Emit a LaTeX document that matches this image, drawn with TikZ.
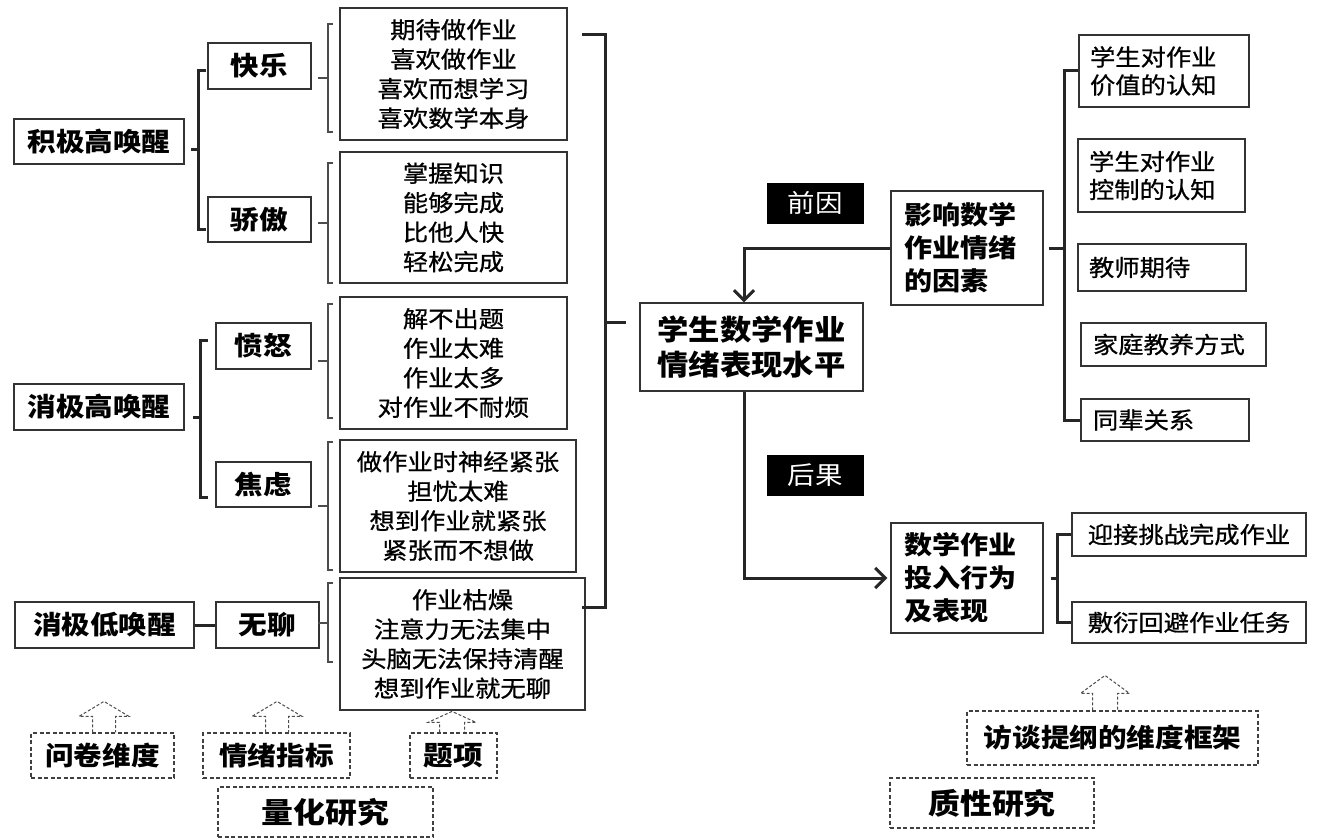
\documentclass[tikz,border=0pt]{standalone}
\usepackage{fontspec}
\setmainfont{Noto Sans CJK SC}[FakeStretch=1.1]
\newfontfamily\regf{Noto Sans CJK SC}[FakeStretch=1.1, FakeBold=0.8]
\usetikzlibrary{calc,arrows.meta}
\newcommand\myfs[2]{\fontsize{#1pt}{#2pt}\selectfont}
\begin{document}
\begin{tikzpicture}[x=1pt,y=-1pt,
  box/.style={draw=black!80, line width=1.4pt, inner sep=0pt, align=center, text=black},
  lab/.style={box, font=\bfseries\myfs{26}{32}},
  item/.style={box, font=\regf\myfs{23}{29.5}},
  ritem/.style={box, font=\regf\myfs{23}{28}, align=left},
  blk/.style={fill=black, draw=black, text=white, inner sep=0pt, font=\myfs{25}{30}},
  dbox/.style={draw=black!75, line width=1.2pt, dash pattern=on 4pt off 2.5pt, inner sep=0pt, font=\bfseries\myfs{26}{30}},
  dsh/.style={draw=black!70, line width=1pt, dash pattern=on 3pt off 2pt},
  brk/.style={draw=black!85, line width=3pt},
  thinbrk/.style={draw=black!70, line width=1.1pt},
  arr/.style={draw=black!85, line width=3pt, -{Straight Barb[length=10pt,width=20pt]}}
]
\fill[white] (0,0) rectangle (1317,840);
\useasboundingbox (0,0) rectangle (1317,840);

% ---------- left labels ----------
\node[lab, minimum width=170pt, minimum height=45pt] (jj) at (99,141.5) {积极高唤醒};
\node[lab, minimum width=103pt, minimum height=46pt] (kl) at (259.5,66) {快乐};
\node[lab, minimum width=103pt, minimum height=45pt] (jao) at (259.5,219.5) {骄傲};
\node[lab, minimum width=170pt, minimum height=46pt] (xg) at (99,407) {消极高唤醒};
\node[lab, minimum width=95pt, minimum height=46pt] (fn) at (263.5,346) {愤怒};
\node[lab, minimum width=95pt, minimum height=45pt] (jl) at (263.5,484.5) {焦虑};
\node[lab, minimum width=179pt, minimum height=46pt] (xd) at (104.5,625) {消极低唤醒};
\node[lab, minimum width=103pt, minimum height=46pt] (wl) at (267.5,625) {无聊};

% ---------- item boxes ----------
\node[item, minimum width=227pt, minimum height=132pt] (i1) at (453.5,74) {期待做作业\\喜欢做作业\\喜欢而想学习\\喜欢数学本身};
\node[item, minimum width=227pt, minimum height=131pt] (i2) at (453.5,217.5) {掌握知识\\能够完成\\比他人快\\轻松完成};
\node[item, minimum width=227pt, minimum height=132pt] (i3) at (453.5,363) {解不出题\\作业太难\\作业太多\\对作业不耐烦};
\node[item, minimum width=236pt, minimum height=132pt] (i4) at (458,506) {做作业时神经紧张\\担忧太难\\想到作业就紧张\\紧张而不想做};
\node[item, minimum width=245pt, minimum height=132pt] (i5) at (462.5,644) {作业枯燥\\注意力无法集中\\头脑无法保持清醒\\想到作业就无聊};

% ---------- thick brackets (left) ----------
\draw[brk] (206,71) -- (198,71) -- (198,229) -- (206,229);
\draw[brk] (191,150) -- (198,150);
\draw[brk] (208,340) -- (200,340) -- (200,497) -- (208,497);
\draw[brk] (193,417) -- (200,417);
\draw[brk] (xd.east) -- (wl.west);

% ---------- thin brackets ----------
\draw[thinbrk] (333,24) -- (328,24) -- (328,132) -- (333,132);
\draw[thinbrk] (318,78) -- (328,78);
\draw[thinbrk] (333,163) -- (328,163) -- (328,283) -- (333,283);
\draw[thinbrk] (318,223) -- (328,223);
\draw[thinbrk] (333,304) -- (328,304) -- (328,418) -- (333,418);
\draw[thinbrk] (318,361) -- (328,361);
\draw[thinbrk] (333,442) -- (328,442) -- (328,570) -- (333,570);
\draw[thinbrk] (318,506) -- (328,506);
\draw[thinbrk] (333,583) -- (328,583) -- (328,662) -- (333,662);
\draw[thinbrk] (318,623) -- (328,623);

% ---------- big bracket ----------
\draw[brk] (582,35) -- (605,35) -- (605,607) -- (582,607);
\draw[brk] (605,322) -- (626,322);

% ---------- centre ----------
\node[box, font=\bfseries\myfs{28.5}{35}, minimum width=223pt, minimum height=88pt] (c) at (751.5,347) {学生数学作业\\情绪表现水平};
\node[blk, minimum width=96pt, minimum height=40pt] (qy) at (815,203) {前因};
\node[blk, minimum width=96pt, minimum height=40pt] (hg) at (815,475) {后果};
\node[box, font=\bfseries\myfs{25.5}{33}, align=left, text width=126pt, minimum width=152pt, minimum height=114pt] (yx) at (967,248) {影响数学\\作业情绪\\的因素};
\node[box, font=\bfseries\myfs{25.5}{33}, align=left, text width=126pt, minimum width=152pt, minimum height=110pt] (tz) at (967,578) {数学作业\\投入行为\\及表现};

\draw[arr] (yx.west) -| ($(c.north)+(-7.5,0)$);
\draw[arr, shorten >=3pt] ($(c.south)+(-7.5,0)$) |- (tz.west);

% ---------- right factors ----------
\node[ritem, text width=148pt, minimum width=170pt, minimum height=72pt] (r1) at (1164,71) {学生对作业\\价值的认知};
\node[ritem, text width=145pt, minimum width=167pt, minimum height=73pt] (r2) at (1161.5,175.5) {学生对作业\\控制的认知};
\node[ritem, text width=146pt, minimum width=168pt, minimum height=47pt] (r3) at (1162,267.5) {教师期待};
\node[ritem, text width=161pt, minimum width=185pt, minimum height=43pt] (r4) at (1173.5,344.5) {家庭教养方式};
\node[ritem, text width=144pt, minimum width=168pt, minimum height=42pt] (r5) at (1165,420) {同辈关系};

\draw[brk] (r1.west) -| ($(yx.east)+(21,0)$) |- (r5.west);
\draw[brk] ($(yx.east)+(5,0)$) -- ++(16,0);

\node[item, minimum width=234pt, minimum height=43pt] (ya) at (1189,534.5) {迎接挑战完成作业};
\node[item, minimum width=234pt, minimum height=41pt] (fy) at (1189,622.5) {敷衍回避作业任务};
\draw[brk] (ya.west) -| ($(tz.east)+(14,0)$) |- (fy.west);
\draw[brk] ($(tz.east)+(7,0)$) -- ++(7,0);

% ---------- dashed boxes ----------
\node[dbox, minimum width=143pt, minimum height=45pt] (wj) at (102.5,755.5) {问卷维度};
\node[dbox, minimum width=147pt, minimum height=45pt] (qx) at (276.5,755.5) {情绪指标};
\node[dbox, minimum width=87pt, minimum height=45pt, font=\bfseries\myfs{27}{30}] (tx) at (453.5,755.5) {题项};
\node[dbox, minimum width=215pt, minimum height=50pt, font=\bfseries\myfs{29}{32}] (lh) at (325.5,812) {量化研究};
\node[dbox, minimum width=291pt, minimum height=54pt] (ft) at (1112.5,738) {访谈提纲的维度框架};
\node[dbox, minimum width=204pt, minimum height=50pt, font=\bfseries\myfs{29}{32}] (zx) at (992,803) {质性研究};

% ---------- hollow dashed up arrows ----------
\draw[dsh] ($(wj.north)+(-10,0)$) -- ++(0,-16) -- ++(-13.5,0) -- ++(25,-15) -- ++(25,15) -- ++(-13.5,0) -- ++(0,16);
\draw[dsh] ($(qx.north)+(-11,0)$) -- ++(0,-16) -- ++(-13.5,0) -- ++(25,-15) -- ++(25,15) -- ++(-13.5,0) -- ++(0,16);
\draw[dsh] ($(tx.north)+(-14,0)$) -- ++(0,-10) -- ++(-11.5,0) -- ++(24,-11) -- ++(24,11) -- ++(-11.5,0) -- ++(0,10);
\draw[dsh] ($(ft.north)+(-20,0)$) -- ++(0,-17) -- ++(-12,0) -- ++(24.5,-18) -- ++(24.5,18) -- ++(-12,0) -- ++(0,17);
\end{tikzpicture}
\end{document}
